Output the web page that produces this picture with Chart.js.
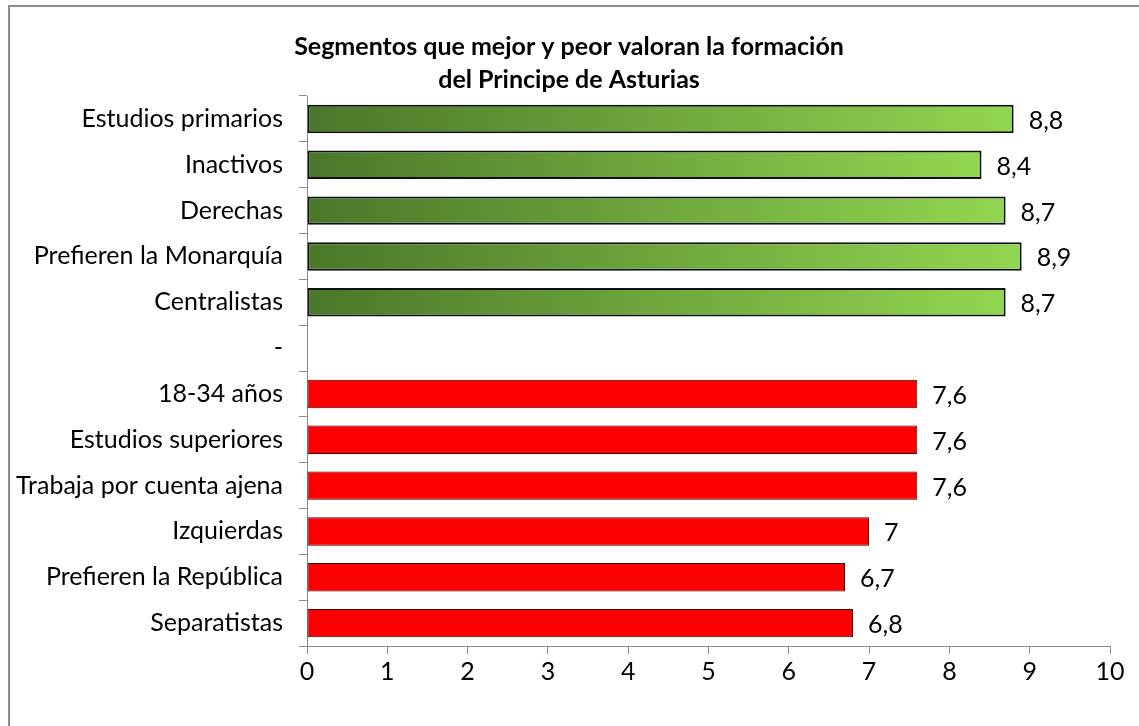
<!DOCTYPE html>
<html>
<head>
<meta charset="utf-8">
<script src="https://cdn.jsdelivr.net/npm/chart.js@4"></script>
<style>
  body { margin: 0; background: #fff; }
  #frame { position: absolute; left: 8px; top: 5px; width: 1200px; height: 800px;
           border-left: 2px solid #8c8c8c; border-top: 2px solid #8c8c8c; }
  #wrap { position: absolute; left: 0; top: 0; width: 1139px; height: 726px; }
</style>
</head>
<body>
<div id="frame"></div>
<div id="wrap"><canvas id="chart" width="1139" height="726"></canvas></div>
<script>
// Data
const categories = [
  "Estudios primarios", "Inactivos", "Derechas", "Prefieren la Monarquía", "Centralistas",
  "-",
  "18-34 años", "Estudios superiores", "Trabaja por cuenta ajena", "Izquierdas",
  "Prefieren la República", "Separatistas"
];
const mejorValues = [8.8, 8.4, 8.7, 8.9, 8.7, null, null, null, null, null, null, null];
const peorValues = [null, null, null, null, null, null, 7.6, 7.6, 7.6, 7.0, 6.7, 6.8];
const xTicks = [0, 1, 2, 3, 4, 5, 6, 7, 8, 9, 10];
const titleLines = ["Segmentos que mejor y peor valoran la formación", "del Principe de Asturias"];

const fontFamily = "Lato, 'Open Sans', sans-serif";

// Green bars: dark on the left, light at the bar end
function greenFill(context) {
  const chart = context.chart;
  const xs = chart.scales.x;
  if (!chart.chartArea || !xs || context.parsed == null) return '#6fa83c';
  const x0 = xs.getPixelForValue(0);
  const x1 = xs.getPixelForValue(context.parsed.x || 0);
  if (!isFinite(x1) || x1 <= x0) return '#6fa83c';
  const g = chart.ctx.createLinearGradient(x0, 0, x1, 0);
  g.addColorStop(0, '#4a7729');
  g.addColorStop(1, '#93d650');
  return g;
}

// Title centred on the whole frame, not only on the plot
const frameTitle = {
  id: 'frameTitle',
  afterDraw(chart) {
    const ctx = chart.ctx;
    ctx.save();
    ctx.font = "bold 25px " + fontFamily;
    ctx.fillStyle = '#000';
    ctx.textAlign = 'center';
    ctx.textBaseline = 'middle';
    titleLines.forEach((line, i) => ctx.fillText(line, 569, 47 + i * 33));
    ctx.restore();
  }
};

// Value labels at the end of every bar
const valueLabels = {
  id: 'valueLabels',
  afterDatasetsDraw(chart) {
    const ctx = chart.ctx;
    ctx.save();
    ctx.font = "25px " + fontFamily;
    ctx.fillStyle = '#000';
    ctx.textAlign = 'left';
    ctx.textBaseline = 'middle';
    chart.data.datasets.forEach((ds, di) => {
      const meta = chart.getDatasetMeta(di);
      meta.data.forEach((bar, i) => {
        const v = ds.data[i];
        if (v == null) return;
        ctx.fillText(String(v).replace('.', ','), bar.x + 15, bar.y + 2);
      });
    });
    ctx.restore();
  }
};

new Chart(document.getElementById('chart'), {
  type: 'bar',
  data: {
    labels: categories,
    datasets: [
      {
        label: 'Mejor',
        data: mejorValues,
        backgroundColor: greenFill,
        borderColor: '#111',
        borderWidth: 2,
        borderSkipped: false,
        barPercentage: 0.62,
        categoryPercentage: 1
      },
      {
        label: 'Peor',
        data: peorValues,
        backgroundColor: '#ff0000',
        borderColor: '#3a0000',
        borderWidth: 1,
        borderSkipped: false,
        barPercentage: 0.62,
        categoryPercentage: 1
      }
    ]
  },
  options: {
    indexAxis: 'y',
    responsive: false,
    animation: false,
    layout: { padding: { top: 96, right: 29, bottom: 38, left: 0 } },
    datasets: { bar: { grouped: false, skipNull: true } },
    plugins: {
      legend: { display: false },
      tooltip: { enabled: false },
      title: { display: false }
    },
    scales: {
      x: {
        min: 0,
        max: 10,
        afterBuildTicks: s => { s.ticks = xTicks.map(v => ({ value: v })); },
        afterFit: s => { s.height = 42; },
        grid: { drawOnChartArea: false, drawTicks: true, tickLength: 8, color: '#8c8c8c' },
        border: { color: '#8c8c8c', width: 1 },
        ticks: { color: '#000', padding: 3, font: { family: fontFamily, size: 25 } }
      },
      y: {
        afterFit: s => { s.width = 307; },
        grid: { drawOnChartArea: false, drawTicks: true, tickLength: 8, offset: true, color: '#8c8c8c' },
        border: { color: '#8c8c8c', width: 1 },
        ticks: { color: '#000', padding: 16, autoSkip: false, font: { family: fontFamily, size: 25 } }
      }
    }
  },
  plugins: [valueLabels, frameTitle]
});
</script>
</body>
</html>
